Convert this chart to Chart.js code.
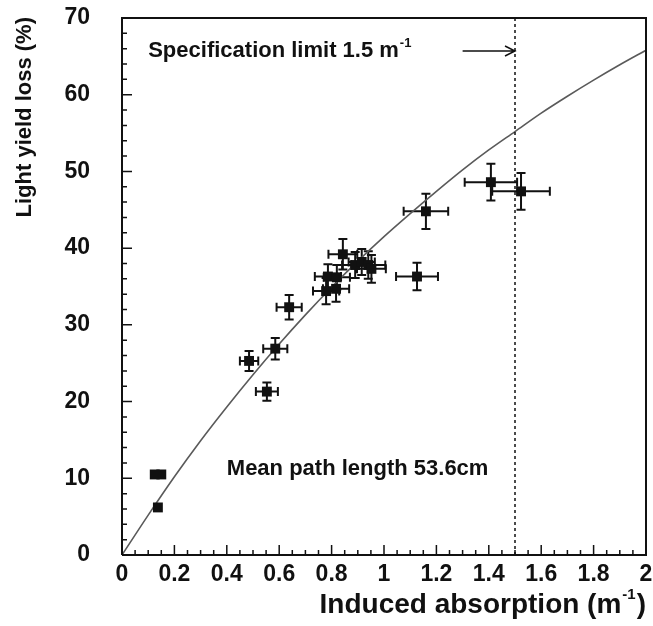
<!DOCTYPE html>
<html><head><meta charset="utf-8">
<script src="https://cdn.jsdelivr.net/npm/chart.js@4.4.0/dist/chart.umd.min.js"></script>
<style>html,body{margin:0;padding:0;background:#fff;} #wrap{width:653px;height:626px;}</style>
</head><body><div id="wrap"><canvas id="c" width="653" height="626"></canvas></div>
<script>
// ---- data ----
const absorption      = [0.137, 0.125, 0.150, 0.485, 0.553, 0.585, 0.638, 0.779, 0.817, 0.786, 0.820, 0.843, 0.890, 0.915, 0.940, 0.952, 1.126, 1.160, 1.408, 1.523];
const absorptionErr   = [0, 0, 0, 0.035, 0.042, 0.046, 0.048, 0.050, 0.050, 0.050, 0.050, 0.055, 0.050, 0.050, 0.065, 0.055, 0.080, 0.085, 0.100, 0.110];
const lightYieldLoss  = [6.2, 10.5, 10.5, 25.3, 21.3, 26.9, 32.3, 34.4, 34.7, 36.3, 36.2, 39.2, 37.8, 38.2, 37.8, 37.3, 36.3, 44.8, 48.6, 47.4];
const lightYieldLossErr = [0, 0, 0, 1.3, 1.2, 1.4, 1.6, 1.7, 1.7, 1.6, 1.6, 2.0, 1.7, 1.7, 1.8, 1.8, 1.8, 2.3, 2.4, 2.4];

const curveX = [0, 0.1, 0.2, 0.3, 0.4, 0.5, 0.6, 0.7, 0.8, 0.9, 1.0, 1.1, 1.2, 1.3, 1.4, 1.5, 1.6, 1.7, 1.8, 1.9, 2.0];
const curveY = [0, 5.2, 10.2, 14.9, 19.3, 23.5, 27.5, 31.3, 34.9, 38.3, 41.5, 44.5, 47.4, 50.2, 52.8, 55.2, 57.6, 59.8, 61.9, 63.9, 65.8];

const xTickValues = [0, 0.2, 0.4, 0.6, 0.8, 1, 1.2, 1.4, 1.6, 1.8, 2];
const xTickLabels = ['0', '0.2', '0.4', '0.6', '0.8', '1', '1.2', '1.4', '1.6', '1.8', '2'];
const yTickValues = [0, 10, 20, 30, 40, 50, 60, 70];
const yTickLabels = ['0', '10', '20', '30', '40', '50', '60', '70'];

const specLimit = 1.5;
const xTitle = 'Induced absorption (m';
const yTitle = 'Light yield loss (%)';
const specText = 'Specification limit 1.5 m';
const pathText = 'Mean path length 53.6cm';

// ---- styling ----
const FONT = "'Liberation Sans', Arial, Helvetica, sans-serif";
const INK = '#111';

const points = absorption.map((x, i) => ({x: x, y: lightYieldLoss[i]}));
const curve = curveX.map((x, i) => ({x: x, y: curveY[i]}));

const extras = {
  id: 'extras',
  beforeDatasetsDraw(chart) {
    const ctx = chart.ctx, xs = chart.scales.x, ys = chart.scales.y;
    ctx.save();
    ctx.strokeStyle = INK;
    ctx.lineWidth = 2;
    const cap = 4.5;
    absorption.forEach((v, i) => {
      const px = xs.getPixelForValue(v), py = ys.getPixelForValue(lightYieldLoss[i]);
      if (absorptionErr[i] > 0) {
        const x1 = xs.getPixelForValue(v - absorptionErr[i]), x2 = xs.getPixelForValue(v + absorptionErr[i]);
        ctx.beginPath();
        ctx.moveTo(x1, py); ctx.lineTo(x2, py);
        ctx.moveTo(x1, py - cap); ctx.lineTo(x1, py + cap);
        ctx.moveTo(x2, py - cap); ctx.lineTo(x2, py + cap);
        ctx.stroke();
      }
      if (lightYieldLossErr[i] > 0) {
        const y1 = ys.getPixelForValue(lightYieldLoss[i] - lightYieldLossErr[i]), y2 = ys.getPixelForValue(lightYieldLoss[i] + lightYieldLossErr[i]);
        ctx.beginPath();
        ctx.moveTo(px, y1); ctx.lineTo(px, y2);
        ctx.moveTo(px - cap, y1); ctx.lineTo(px + cap, y1);
        ctx.moveTo(px - cap, y2); ctx.lineTo(px + cap, y2);
        ctx.stroke();
      }
    });
    ctx.restore();
  },
  afterDraw(chart) {
    const ctx = chart.ctx, xs = chart.scales.x, ys = chart.scales.y, a = chart.chartArea;
    ctx.save();
    // frame
    ctx.strokeStyle = INK;
    ctx.lineWidth = 2;
    ctx.beginPath();
    ctx.moveTo(a.left, a.bottom); ctx.lineTo(a.left, a.top); ctx.lineTo(a.right, a.top); ctx.lineTo(a.right, a.bottom); ctx.lineTo(a.left, a.bottom);
    ctx.stroke();
    // inward ticks
    ctx.lineWidth = 1.5;
    ctx.beginPath();
    for (let i = 0; i <= 40; i++) {
      const v = i * 0.05;
      const px = xs.getPixelForValue(v);
      const len = (i % 4 === 0) ? 10 : 5;
      ctx.moveTo(px, a.bottom); ctx.lineTo(px, a.bottom - len);
    }
    for (let i = 0; i <= 35; i++) {
      const v = i * 2;
      const py = ys.getPixelForValue(v);
      const len = (i % 5 === 0) ? 10 : 5;
      ctx.moveTo(a.left, py); ctx.lineTo(a.left + len, py);
    }
    ctx.stroke();
    // spec limit dashed line
    const sx = xs.getPixelForValue(specLimit);
    ctx.setLineDash([3, 3]);
    ctx.lineWidth = 1.5;
    ctx.beginPath();
    ctx.moveTo(sx, a.top); ctx.lineTo(sx, a.bottom);
    ctx.stroke();
    ctx.setLineDash([]);
    // arrow
    const ay = ys.getPixelForValue(65.7);
    const ax1 = xs.getPixelForValue(1.30);
    ctx.lineWidth = 1.5;
    ctx.beginPath();
    ctx.moveTo(ax1, ay); ctx.lineTo(sx, ay);
    ctx.moveTo(sx - 10, ay - 5); ctx.lineTo(sx, ay); ctx.lineTo(sx - 10, ay + 5);
    ctx.stroke();
    // annotation texts
    ctx.fillStyle = INK;
    ctx.textBaseline = 'alphabetic';
    ctx.textAlign = 'left';
    let tx = xs.getPixelForValue(0.10), ty = ys.getPixelForValue(64.9);
    ctx.font = 'bold 22px ' + FONT;
    ctx.fillText(specText, tx, ty);
    let w = ctx.measureText(specText).width;
    ctx.font = 'bold 13px ' + FONT;
    ctx.fillText('-1', tx + w + 1, ty - 10);
    ctx.font = 'bold 22px ' + FONT;
    ctx.fillText(pathText, xs.getPixelForValue(0.40), ys.getPixelForValue(10.4));
    // y title
    ctx.save();
    ctx.translate(25, a.top - 1);
    ctx.rotate(-Math.PI / 2);
    ctx.font = 'bold 22px ' + FONT;
    ctx.textAlign = 'right';
    ctx.textBaseline = 'middle';
    ctx.fillText(yTitle, 0, 0);
    ctx.restore();
    // x title (right aligned, with superscript)
    ctx.textAlign = 'left';
    ctx.textBaseline = 'alphabetic';
    ctx.font = 'bold 28px ' + FONT;
    const wt = ctx.measureText(xTitle).width;
    const wp = ctx.measureText(')').width;
    ctx.font = 'bold 15px ' + FONT;
    const ws = ctx.measureText('-1').width;
    const right = a.right, base = 613;
    const start = right - wp - ws - 2 - wt;
    ctx.font = 'bold 28px ' + FONT;
    ctx.fillText(xTitle, start, base);
    ctx.fillText(')', right - wp, base);
    ctx.font = 'bold 15px ' + FONT;
    ctx.fillText('-1', start + wt + 1, base - 14);
    ctx.restore();
  }
};

new Chart(document.getElementById('c'), {
  type: 'scatter',
  data: {
    datasets: [
      {
        type: 'line',
        data: curve,
        borderColor: '#5a5a5a',
        borderWidth: 1.6,
        pointRadius: 0,
        cubicInterpolationMode: 'monotone',
        fill: false,
        order: 2
      },
      {
        data: points,
        pointStyle: 'rect',
        pointRadius: 7,
        backgroundColor: INK,
        borderColor: INK,
        borderWidth: 0,
        order: 1
      }
    ]
  },
  options: {
    responsive: false,
    animation: false,
    devicePixelRatio: 1,
    layout: {padding: {top: 18, right: 7, left: 0, bottom: 0}},
    plugins: {legend: {display: false}, tooltip: {enabled: false}, title: {display: false}},
    scales: {
      x: {
        type: 'linear', min: 0, max: 2,
        afterBuildTicks: s => { s.ticks = xTickValues.map(v => ({value: v})); },
        afterFit: s => { s.height = 71; s.paddingLeft = 0; s.paddingRight = 0; },
        ticks: {
          callback: (v, i) => xTickLabels[i],
          font: {family: FONT, size: 23, weight: 'bold'},
          color: INK, padding: 6, maxRotation: 0, autoSkip: false
        },
        grid: {display: false, drawTicks: false},
        border: {display: false}
      },
      y: {
        type: 'linear', min: 0, max: 70,
        afterBuildTicks: s => { s.ticks = yTickValues.map(v => ({value: v})); },
        afterFit: s => { s.width = 122; s.paddingTop = 0; s.paddingBottom = 0; },
        ticks: {
          callback: (v, i) => yTickLabels[i],
          font: {family: FONT, size: 23, weight: 'bold'},
          color: INK, padding: 32, autoSkip: false
        },
        grid: {display: false, drawTicks: false},
        border: {display: false}
      }
    }
  },
  plugins: [extras]
});
</script>
</body></html>
